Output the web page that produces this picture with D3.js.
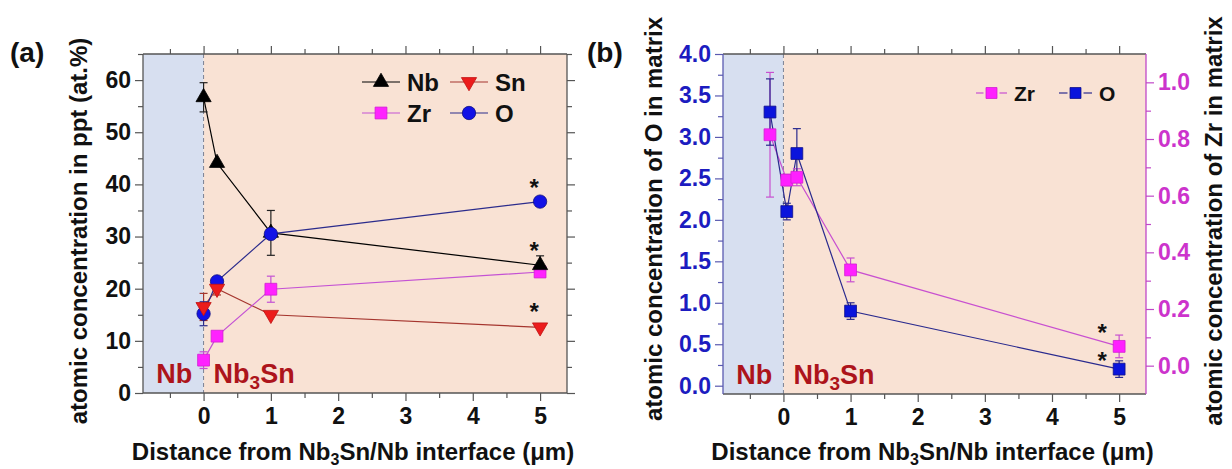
<!DOCTYPE html>
<html>
<head>
<meta charset="utf-8">
<script src="https://cdn.jsdelivr.net/npm/d3@7"></script>
<style>
  body { margin: 0; background: #fff; }
  text { font-family: "Liberation Sans", Arial, sans-serif; font-weight: bold; }
</style>
</head>
<body>
<script>
// panel (a): concentrations in at.%
const distA = [0, 0.2, 1, 5];
const nbA = [56.7, 44.1, 30.7, 24.5];
const nbErrA = [2.8, 0, 4.3, 1.8];
const snA = [16.5, 20.0, 15.0, 12.6];
const snErrA = [2.6, 1.2, 0, 0];
const zrA = [6.3, 10.9, 19.9, 23.2];
const zrErrA = [1.6, 0, 2.5, 0.8];
const oA = [15.2, 21.4, 30.5, 36.7];
const oErrA = [2.3, 0.8, 0, 0];

// panel (b): matrix concentrations
const distB = [-0.2, 0.05, 0.2, 1, 5];
const oB = [3.3, 2.1, 2.8, 0.9, 0.2];
const oErrB = [0.4, 0.1, 0.3, 0.1, 0.1];
const zrB = [0.815, 0.655, 0.665, 0.338, 0.068];
const zrErrB = [0.22, 0.02, 0.03, 0.042, 0.04];

// tick values
const xMajor = [0, 1, 2, 3, 4, 5];
const xMinor = [-0.5, 0.5, 1.5, 2.5, 3.5, 4.5];
const yMajorA = [0, 10, 20, 30, 40, 50, 60];
const yMinorA = [5, 15, 25, 35, 45, 55, 65];
const yMajorBL = [0, 0.5, 1, 1.5, 2, 2.5, 3, 3.5, 4];
const yMinorBL = [0.25, 0.75, 1.25, 1.75, 2.25, 2.75, 3.25, 3.75];
const yMajorBR = [0, 0.2, 0.4, 0.6, 0.8, 1.0];
const yMinorBR = [0.1, 0.3, 0.5, 0.7, 0.9];

let canvasW = 1232;
let canvasH = 469;

let svg = d3.select("body").append("svg")
  .attr("width", canvasW)
  .attr("height", canvasH);

const blueBg = "#d7dff0";
const peachBg = "#f9e2d4";
const frameCol = "#555";
const labelRed = "#ad141b";

function styleAxis(g, col, txtCol, size) {
  g.select(".domain").remove();
  g.selectAll("line").attr("stroke", col).attr("stroke-width", 1.2);
  g.selectAll("text").attr("fill", txtCol).attr("font-size", size + "px");
}

function drawFrame(x, y) {
  let [x0, x1] = x.range();
  let [y0, y1] = y.range(); // y0 bottom, y1 top

  // backgrounds
  svg.append("rect").attr("x", x0).attr("y", y1)
    .attr("width", x(0) - x0).attr("height", y0 - y1).attr("fill", blueBg);
  svg.append("rect").attr("x", x(0)).attr("y", y1)
    .attr("width", x1 - x(0)).attr("height", y0 - y1).attr("fill", peachBg);
  svg.append("line").attr("x1", x(0)).attr("x2", x(0)).attr("y1", y1).attr("y2", y0)
    .attr("stroke", "#7a8194").attr("stroke-width", 1).attr("stroke-dasharray", "4,3");

  // bottom + top
  let gb = svg.append("g").attr("transform", `translate(0,${y0})`)
    .call(d3.axisBottom(x).tickValues(xMajor).tickSize(8).tickPadding(7).tickFormat(d3.format("d")));
  styleAxis(gb, frameCol, "#111", 23);
  styleAxis(svg.append("g").attr("transform", `translate(0,${y0})`)
    .call(d3.axisBottom(x).tickValues(xMinor).tickSize(5).tickFormat("")), frameCol, "#111", 23);
  styleAxis(svg.append("g").attr("transform", `translate(0,${y1})`)
    .call(d3.axisTop(x).tickValues(xMajor).tickSize(8).tickFormat("")), frameCol, "#111", 23);
  styleAxis(svg.append("g").attr("transform", `translate(0,${y1})`)
    .call(d3.axisTop(x).tickValues(xMinor).tickSize(5).tickFormat("")), frameCol, "#111", 23);

  svg.append("line").attr("x1", x0).attr("x2", x1).attr("y1", y0).attr("y2", y0)
    .attr("stroke", frameCol).attr("stroke-width", 1.3);
  svg.append("line").attr("x1", x0).attr("x2", x1).attr("y1", y1).attr("y2", y1)
    .attr("stroke", frameCol).attr("stroke-width", 1.3);

  // x title
  let t = svg.append("text")
    .attr("x", (x0 + x1) / 2 - 2).attr("y", 460)
    .attr("text-anchor", "middle").attr("font-size", "24px").attr("fill", "#111");
  t.append("tspan").text("Distance from Nb");
  t.append("tspan").attr("dy", 5).attr("font-size", "16px").text("3");
  t.append("tspan").attr("dy", -5).text("Sn/Nb interface (\u03bcm)");

  // Nb / Nb3Sn labels
  svg.append("text").attr("x", (x0 + x(0)) / 2 + 1).attr("y", y0 - 10)
    .attr("text-anchor", "middle").attr("font-size", "27px").attr("fill", labelRed).text("Nb");
  let n = svg.append("text").attr("x", x(0) + 10).attr("y", y0 - 10)
    .attr("font-size", "27px").attr("fill", labelRed);
  n.append("tspan").text("Nb");
  n.append("tspan").attr("dy", 6).attr("font-size", "19px").text("3");
  n.append("tspan").attr("dy", -6).text("Sn");
}

function yAxisSide(x, y, side, major, minor, fmt, col, txtCol) {
  let [x0, x1] = x.range();
  let [y0, y1] = y.range();
  let pos = side == "left" ? x0 : x1;
  let mk = side == "left" ? d3.axisLeft : d3.axisRight;
  let g = svg.append("g").attr("transform", `translate(${pos},0)`)
    .call(mk(y).tickValues(major).tickSize(8).tickPadding(4).tickFormat(fmt));
  styleAxis(g, col, txtCol, 23);
  styleAxis(svg.append("g").attr("transform", `translate(${pos},0)`)
    .call(mk(y).tickValues(minor).tickSize(5).tickFormat("")), col, txtCol, 23);
  svg.append("line").attr("x1", pos).attr("x2", pos).attr("y1", y0).attr("y2", y1)
    .attr("stroke", col).attr("stroke-width", 1.3);
}

function yTitle(xPos, yMid, label) {
  svg.append("text")
    .attr("transform", `translate(${xPos},${yMid}) rotate(-90)`)
    .attr("text-anchor", "middle").attr("font-size", "24px").attr("fill", "#111")
    .text(label);
}

function drawLine(xs, ys, x, y, col) {
  svg.append("path")
    .datum(xs.map((d, i) => [d, ys[i]]))
    .attr("fill", "none").attr("stroke", col).attr("stroke-width", 1.2)
    .attr("d", d3.line().x(d => x(d[0])).y(d => y(d[1])));
}

function drawErr(xs, ys, errs, x, y, col) {
  xs.forEach((d, i) => {
    if (!errs[i]) return;
    let cx = x(d);
    let top = y(ys[i] + errs[i]);
    let bot = y(ys[i] - errs[i]);
    svg.append("line").attr("x1", cx).attr("x2", cx).attr("y1", top).attr("y2", bot)
      .attr("stroke", col).attr("stroke-width", 1.2);
    [top, bot].forEach(v => {
      svg.append("line").attr("x1", cx - 4).attr("x2", cx + 4).attr("y1", v).attr("y2", v)
        .attr("stroke", col).attr("stroke-width", 1.2);
    });
  });
}

function symPath(type, size) {
  return d3.symbol().type(type).size(size)();
}

function drawMarkers(xs, ys, x, y, type, size, fill, stroke, rot) {
  svg.selectAll(null)
    .data(xs.map((d, i) => [d, ys[i]]))
    .enter()
    .append("path")
      .attr("d", symPath(type, size))
      .attr("transform", d => `translate(${x(d[0])},${y(d[1])}) rotate(${rot || 0})`)
      .attr("fill", fill)
      .attr("stroke", stroke)
      .attr("stroke-width", 0.8);
}

// asterisk centred on (cx, cy)
function star(cx, cy) {
  svg.append("text").attr("x", cx).attr("y", cy + 14)
    .attr("text-anchor", "middle").attr("font-size", "24px").attr("fill", "#111").text("*");
}

// ---------------- panel (a)
let ax = d3.scaleLinear().domain([-0.9, 5.4]).range([143, 567]);
let ay = d3.scaleLinear().domain([0, 65]).range([393, 54]);

drawFrame(ax, ay);
yAxisSide(ax, ay, "left", yMajorA, yMinorA, d3.format("d"), frameCol, "#111");
yAxisSide(ax, ay, "right", yMajorA, yMinorA, "", frameCol, "#111");
yTitle(87, 231, "atomic concentration in ppt (at.%)");

const nbCol = "#000", snLine = "#a5352e", zrLine = "#c452d4", oLine = "#2c2c8c";
const snFill = "#ec1c1c", zrFill = "#ff22ff", oFill = "#1212e6";

drawLine(distA, nbA, ax, ay, nbCol);
drawLine(distA, snA, ax, ay, snLine);
drawLine(distA, zrA, ax, ay, zrLine);
drawLine(distA, oA, ax, ay, oLine);

drawErr(distA, nbA, nbErrA, ax, ay, "#222");
drawErr(distA, snA, snErrA, ax, ay, snLine);
drawErr(distA, zrA, zrErrA, ax, ay, zrLine);
drawErr(distA, oA, oErrA, ax, ay, oLine);

drawMarkers(distA, zrA, ax, ay, d3.symbolSquare, 140, zrFill, "#d020d0");
drawMarkers(distA, nbA, ax, ay, d3.symbolTriangle, 100, "#000", "#000");
drawMarkers(distA, oA, ax, ay, d3.symbolCircle, 140, oFill, "#101080");
drawMarkers(distA, snA, ax, ay, d3.symbolTriangle, 100, snFill, "#c01010", 180);

star(ax(5) - 6, ay(oA[3]) - 20);
star(ax(5) - 6, ay(nbA[3]) - 20);
star(ax(5) - 6, ay(snA[3]) - 21);

// legend entries
function legendItem(x1, x2, cy, lineCol, type, size, fill, stroke, rot, label, fs, gap) {
  let mid = (x1 + x2) / 2;
  if (gap) {
    svg.append("line").attr("x1", x1).attr("x2", mid - gap).attr("y1", cy).attr("y2", cy)
      .attr("stroke", lineCol).attr("stroke-width", 1.2);
    svg.append("line").attr("x1", mid + gap).attr("x2", x2).attr("y1", cy).attr("y2", cy)
      .attr("stroke", lineCol).attr("stroke-width", 1.2);
  } else {
    svg.append("line").attr("x1", x1).attr("x2", x2).attr("y1", cy).attr("y2", cy)
      .attr("stroke", lineCol).attr("stroke-width", 1.2);
  }
  svg.append("path").attr("d", symPath(type, size))
    .attr("transform", `translate(${mid},${cy}) rotate(${rot})`)
    .attr("fill", fill).attr("stroke", stroke).attr("stroke-width", 0.8);
  svg.append("text").attr("x", x2 + 7).attr("y", cy + fs * 0.36)
    .attr("font-size", fs + "px").attr("fill", "#111").text(label);
}
legendItem(362, 400, 82, nbCol, d3.symbolTriangle, 100, "#000", "#000", 0, "Nb", 24);
legendItem(450, 488, 82, snLine, d3.symbolTriangle, 100, snFill, "#c01010", 180, "Sn", 24);
legendItem(362, 400, 113, zrLine, d3.symbolSquare, 140, zrFill, "#d020d0", 0, "Zr", 24);
legendItem(450, 488, 113, oLine, d3.symbolCircle, 140, oFill, "#101080", 0, "O", 24);

svg.append("text").attr("x", 10).attr("y", 62).attr("font-size", "28px").attr("fill", "#111").text("(a)");

// ---------------- panel (b)
let bx = d3.scaleLinear().domain([-0.9, 5.4]).range([723, 1146]);
let byO = d3.scaleLinear().domain([-0.1, 4.0]).range([394, 54]);
let byZr = d3.scaleLinear().domain([-0.1, 1.1]).range([394, 54]);

const bBlue = "#1c1cc0", bMag = "#cc33cc";

drawFrame(bx, byO);
yAxisSide(bx, byO, "left", yMajorBL, yMinorBL, d3.format(".1f"), "#5a5ab0", bBlue);
yAxisSide(bx, byZr, "right", yMajorBR, yMinorBR, d3.format(".1f"), "#c048c8", bMag);
yTitle(662, 219, "atomic concentration of O in matrix");
yTitle(1222, 221, "atomic concentration of Zr in matrix");

const oLineB = "#2a2a8e", zrLineB = "#c850d0";
const oFillB = "#0a14dc", zrFillB = "#ff20ff";

drawLine(distB, zrB, bx, byZr, zrLineB);
drawLine(distB, oB, bx, byO, oLineB);
drawErr(distB, zrB, zrErrB, bx, byZr, zrLineB);
drawErr(distB, oB, oErrB, bx, byO, oLineB);
drawMarkers(distB, oB, bx, byO, d3.symbolSquare, 140, oFillB, "#10108a");
drawMarkers(distB, zrB, bx, byZr, d3.symbolSquare, 140, zrFillB, "#d020d0");

star(bx(5) - 17, byZr(zrB[4]) - 19);
star(bx(5) - 17, byO(oB[4]) - 14);

legendItem(976, 1007, 93, zrLineB, d3.symbolSquare, 120, zrFillB, "#d020d0", 0, "Zr", 21, 8);
legendItem(1059, 1092, 93, oLineB, d3.symbolSquare, 120, oFillB, "#10108a", 0, "O", 21, 8);

svg.append("text").attr("x", 587).attr("y", 62).attr("font-size", "28px").attr("fill", "#111").text("(b)");
</script>
</body>
</html>
